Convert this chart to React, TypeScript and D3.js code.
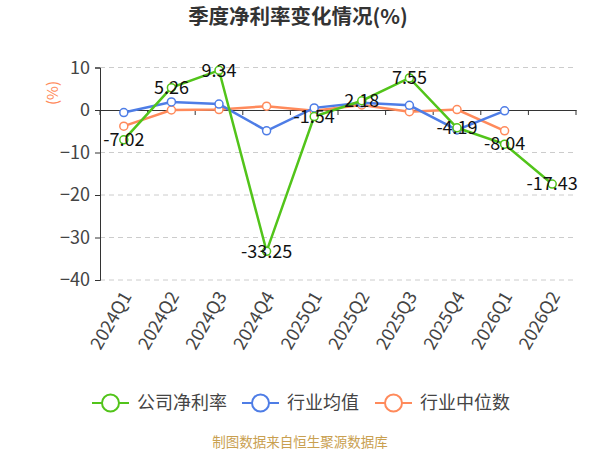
import { useEffect, useRef } from 'react'
import * as d3 from 'd3'

const quarters = ['2024Q1', '2024Q2', '2024Q3', '2024Q4', '2025Q1', '2025Q2', '2025Q3', '2025Q4', '2026Q1', '2026Q2']
const companyRate = [-7.02, 5.26, 9.34, -33.25, -1.54, 2.18, 7.55, -4.19, -8.04, -17.43]
const industryMean = [-0.6, 1.9, 1.4, -4.9, 0.5, 1.7, 1.1, -4.7, -0.2, null]
const industryMedian = [-3.8, 0.0, 0.1, 0.9, -0.2, 1.2, -0.4, 0.1, -4.9, null]
const yTicks = [10, 0, -10, -20, -30, -40]
const seriesNames = ['公司净利率', '行业均值', '行业中位数']
const seriesColors = ['#52c41a', '#4e7de6', '#ff8a5b']

const FONT = '"Noto Sans CJK SC", "Noto Sans", sans-serif'

export default function App() {
  const svgRef = useRef<SVGSVGElement>(null)

  useEffect(() => {
    if (!svgRef.current) return
    const width = 600
    const svg = d3.select(svgRef.current)
    svg.selectAll('*').remove()

    const margin = { top: 67.5, left: 100, right: 24 }
    const x = d3.scaleBand<string>()
      .domain(quarters)
      .range([margin.left, width - margin.right])
    const y = d3.scaleLinear()
      .domain([-40, 10])
      .range([280, margin.top])

    // Title
    svg.append('text')
      .attr('x', 298)
      .attr('y', 24)
      .attr('text-anchor', 'middle')
      .attr('font-family', FONT)
      .attr('font-size', 20.5)
      .attr('font-weight', 'bold')
      .attr('fill', '#333')
      .text('季度净利率变化情况(%)')

    // Grid lines
    svg.append('g')
      .selectAll('line')
      .data(yTicks.filter(t => t !== 0))
      .enter().append('line')
      .attr('x1', margin.left)
      .attr('x2', width - margin.right)
      .attr('y1', d => y(d))
      .attr('y2', d => y(d))
      .attr('stroke', '#ccc')
      .attr('stroke-dasharray', '5,4')

    // Y axis
    const yAxis = svg.append('g')
      .attr('transform', `translate(${margin.left},0)`)
      .call(d3.axisLeft(y).tickValues(yTicks).tickSize(5).tickPadding(5))
    yAxis.select('.domain').attr('stroke', '#333')
    yAxis.selectAll('.tick line').attr('stroke', '#333')
    yAxis.selectAll('.tick text')
      .attr('font-family', FONT)
      .attr('font-size', 18)
      .attr('fill', '#444')

    // Y axis title
    svg.append('text')
      .attr('transform', `translate(58,93) rotate(-90)`)
      .attr('text-anchor', 'middle')
      .attr('font-family', FONT)
      .attr('font-size', 15)
      .attr('fill', '#ff8a5b')
      .text('(%)')

    // X axis at zero
    const xAxis = svg.append('g')
      .attr('transform', `translate(0,${y(0)})`)
      .call(d3.axisBottom(x).tickSize(0).tickFormat(() => ''))
    xAxis.select('.domain').attr('stroke', '#333')
    xAxis.selectAll('.tick').remove()
    const bounds = d3.range(quarters.length + 1).map(i => margin.left + i * x.step())
    xAxis.selectAll('.bound')
      .data(bounds)
      .enter().append('line')
      .attr('x1', d => d)
      .attr('x2', d => d)
      .attr('y1', 0)
      .attr('y2', 5)
      .attr('stroke', '#333')

    // X labels rotated
    svg.append('g')
      .selectAll('text')
      .data(quarters)
      .enter().append('text')
      .attr('transform', d => `translate(${(x(d) ?? 0) + x.bandwidth() / 2 + 3},${293}) rotate(-60)`)
      .attr('text-anchor', 'end')
      .attr('dy', '0.35em')
      .attr('font-family', FONT)
      .attr('font-size', 18)
      .attr('fill', '#444')
      .text(d => d)

    const cx = (d: string) => (x(d) ?? 0) + x.bandwidth() / 2
    const allSeries = [companyRate, industryMean, industryMedian]

    // Draw order: median, mean, company on top
    ;[2, 1, 0].forEach(si => {
      const values = allSeries[si]
      const pts = quarters
        .map((q, i) => ({ q, v: values[i] }))
        .filter(p => p.v !== null && p.v !== undefined) as { q: string; v: number }[]
      const line = d3.line<{ q: string; v: number }>()
        .x(p => cx(p.q))
        .y(p => y(p.v))
      svg.append('path')
        .datum(pts)
        .attr('d', line)
        .attr('fill', 'none')
        .attr('stroke', seriesColors[si])
        .attr('stroke-width', 2.5)
      svg.append('g')
        .selectAll('circle')
        .data(pts)
        .enter().append('circle')
        .attr('cx', p => cx(p.q))
        .attr('cy', p => y(p.v))
        .attr('r', 4)
        .attr('fill', '#fff')
        .attr('stroke', seriesColors[si])
        .attr('stroke-width', 1.5)
    })

    // Data labels for company series
    svg.append('g')
      .selectAll('text')
      .data(quarters.map((q, i) => ({ q, v: companyRate[i] })))
      .enter().append('text')
      .attr('x', p => cx(p.q))
      .attr('y', p => y(p.v))
      .attr('dy', '0.35em')
      .attr('text-anchor', 'middle')
      .attr('font-family', FONT)
      .attr('font-size', 18)
      .attr('fill', '#111')
      .text(p => p.v.toFixed(2))

    // Legend
    const legendX = [92, 242, 375]
    const legend = svg.append('g')
    seriesNames.forEach((name, i) => {
      const g = legend.append('g').attr('transform', `translate(${legendX[i]},403)`)
      g.append('line')
        .attr('x1', 0).attr('x2', 37).attr('y1', 0).attr('y2', 0)
        .attr('stroke', seriesColors[i]).attr('stroke-width', 2)
      g.append('circle')
        .attr('cx', 18.5).attr('cy', 0).attr('r', 8.5)
        .attr('fill', '#fff').attr('stroke', seriesColors[i]).attr('stroke-width', 2)
      g.append('text')
        .attr('x', 45).attr('y', 0).attr('dy', '0.35em')
        .attr('font-family', FONT).attr('font-size', 18).attr('fill', '#444')
        .text(name)
    })

    // Source
    svg.append('text')
      .attr('x', 300)
      .attr('y', 442)
      .attr('dy', '0.35em')
      .attr('text-anchor', 'middle')
      .attr('font-family', FONT)
      .attr('font-size', 13.5)
      .attr('fill', '#c9a050')
      .text('制图数据来自恒生聚源数据库')
  }, [])

  return (
    <svg
      ref={svgRef}
      width={600}
      height={450}
      style={{ position: 'absolute', left: 0, top: 0, background: '#fff' }}
    />
  )
}
